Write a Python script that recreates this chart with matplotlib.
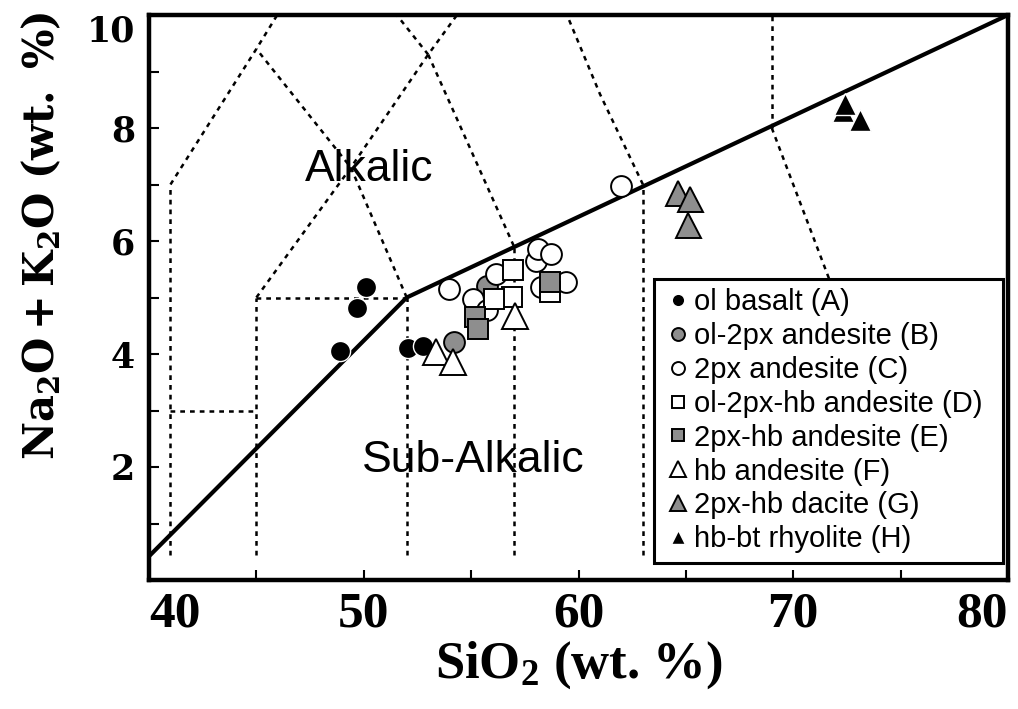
import matplotlib.pyplot as plt

# total alkali vs silica
basalt_x = [48.9, 49.7, 50.1, 52.05, 52.75]
basalt_y = [4.06, 4.81, 5.19, 4.11, 4.15]

ol2px_x = [54.2, 55.75]
ol2px_y = [4.21, 5.2]

px2_x = [53.95, 55.1, 55.75, 56.15, 58.0, 58.1, 58.7, 58.25, 59.4, 62.0]
px2_y = [5.15, 4.98, 4.77, 5.42, 5.65, 5.86, 5.77, 5.18, 5.27, 6.98]

ol2pxhb_x = [56.95, 56.9, 56.05, 58.65]
ol2pxhb_y = [5.48, 5.01, 4.98, 5.10]

px2hb_x = [55.2, 55.3, 58.65]
px2hb_y = [4.65, 4.45, 5.28]

hb_x = [53.35, 54.15, 57.05]
hb_y = [4.03, 3.86, 4.68]

dacite_x = [64.65, 65.2, 65.1]
dacite_y = [6.85, 6.75, 6.28]

rhyolite_x = [72.3, 72.4, 73.1]
rhyolite_y = [8.3, 8.42, 8.14]

# alkalic / sub-alkalic divide
divide_x = [40, 52, 80]
divide_y = [0.42, 5.0, 10.0]

# TAS field boundaries (Le Bas et al.); the ones lying on the divide are left out
fields = [
    ([41, 41], [0.45, 7]),
    ([41, 45], [3, 3]),
    ([41, 45, 48.4], [7, 9.4, 11.5]),
    ([45, 45], [0.45, 5]),
    ([45, 52], [5, 5]),
    ([52, 52], [0.45, 5]),
    ([45, 49.4, 53, 57.6], [5, 7.3, 9.3, 11.7]),
    ([52, 49.4, 45], [5, 7.3, 9.4]),
    ([53, 48.4], [9.3, 11.5]),
    ([53, 57], [9.3, 5.9]),
    ([57, 57], [0.45, 5.9]),
    ([63, 61, 57.6], [7, 8.6, 11.7]),
    ([63, 63], [0.45, 7]),
    ([69, 69], [8, 13]),
    ([69, 76.55], [8, 0.45]),
]

xticks = [40, 50, 60, 70, 80]
yticks = [2, 4, 6, 8, 10]

GRAY = "#8e8e8e"

plt.rcParams["mathtext.bf"] = "Liberation Serif:bold"
plt.rcParams["mathtext.rm"] = "Liberation Serif:bold"
plt.rcParams["mathtext.it"] = "Liberation Serif:bold"

fig = plt.figure(figsize=(10.18, 7.09), dpi=100)
ax = fig.add_axes([149 / 1018, 129 / 709, 859 / 1018, 565 / 709])

for fx, fy in fields:
    ax.plot(fx, fy, color="black", lw=1.8, linestyle=(0, (1.9, 2.0)), zorder=1)
ax.plot(divide_x, divide_y, color="black", lw=3, solid_capstyle="butt", zorder=2)

mk = dict(linestyle="none", zorder=3)
ax.plot(basalt_x, basalt_y, marker="o", ms=14.5, mfc="black", mec="white", mew=1,
        label="ol basalt (A)", **mk)
ax.plot(ol2px_x, ol2px_y, marker="o", ms=15, mfc=GRAY, mec="black", mew=1.4,
        label="ol-2px andesite (B)", **mk)
ax.plot(px2_x, px2_y, marker="o", ms=15, mfc="white", mec="black", mew=1.4,
        label="2px andesite (C)", **mk)
ax.plot(ol2pxhb_x, ol2pxhb_y, marker="s", ms=15, mfc="white", mec="black", mew=1.4,
        label="ol-2px-hb andesite (D)", **mk)
ax.plot(px2hb_x, px2hb_y, marker="s", ms=15, mfc=GRAY, mec="black", mew=1.4,
        label="2px-hb andesite (E)", **mk)
ax.plot(hb_x, hb_y, marker="^", ms=18.5, mfc="white", mec="black", mew=1.4,
        label="hb andesite (F)", **mk)
ax.plot(dacite_x, dacite_y, marker="^", ms=18, mfc=GRAY, mec="black", mew=1.4,
        label="2px-hb dacite (G)", **mk)
ax.plot(rhyolite_x, rhyolite_y, marker="^", ms=16, mfc="black", mec="white", mew=1,
        label="hb-bt rhyolite (H)", **mk)

ax.set_xlim(40, 80)
ax.set_ylim(0, 10)

for s in ax.spines.values():
    s.set_linewidth(3.2)

ax.set_xticks(xticks)
ax.set_xticks([45, 55, 65, 75], minor=True)
ax.set_xticklabels([str(t) for t in xticks], family="Liberation Serif",
                   fontweight="bold", fontsize=37)
ax.set_yticks(yticks)
ax.set_yticks([1, 3, 5, 7, 9], minor=True)
ax.set_yticklabels([str(t) for t in yticks], family="DejaVu Serif",
                   fontweight="bold", fontsize=25)
ax.tick_params(which="both", direction="in", length=7.2, width=1.5,
               top=False, right=False)
ax.tick_params(axis="x", pad=8)
ax.tick_params(axis="y", pad=10)
xl = ax.get_xticklabels()
xl[0].set_ha("left")
xl[-1].set_ha("right")
ax.get_yticklabels()[-1].set_va("top")

ax.set_xlabel(r"SiO$_2$ (wt. %)", family="Liberation Serif", fontweight="bold",
              fontsize=38, math_fontfamily="custom", va="top")
ax.xaxis.set_label_coords(0.5, -0.106)
ax.set_ylabel(r"$\mathbf{Na_2O + K_2O\ (wt.\ \%)}$", fontsize=30,
              math_fontfamily="dejavuserif")
ax.yaxis.set_label_coords(-0.1, 0.609)

ax.text(50.26, 7.07, "Alkalic", family="Liberation Sans", fontsize=32,
        ha="center", va="baseline", zorder=2)
ax.text(55.1, 1.91, "Sub-Alkalic", family="Liberation Sans", fontsize=32,
        ha="center", va="baseline", zorder=2)

leg = ax.legend(loc="upper left", bbox_to_anchor=(0.5879, 0.0319, 0.4063, 0.5008),
                mode="expand", prop={"family": "Liberation Sans", "size": 21},
                markerscale=0.62, borderpad=0.32, handlelength=1.0,
                handletextpad=0.05, labelspacing=0.2, borderaxespad=0,
                fancybox=False, framealpha=1, edgecolor="black")
leg.get_frame().set_linewidth(2.2)
leg.set_zorder(5)

fig.savefig("out.png", dpi=100)
